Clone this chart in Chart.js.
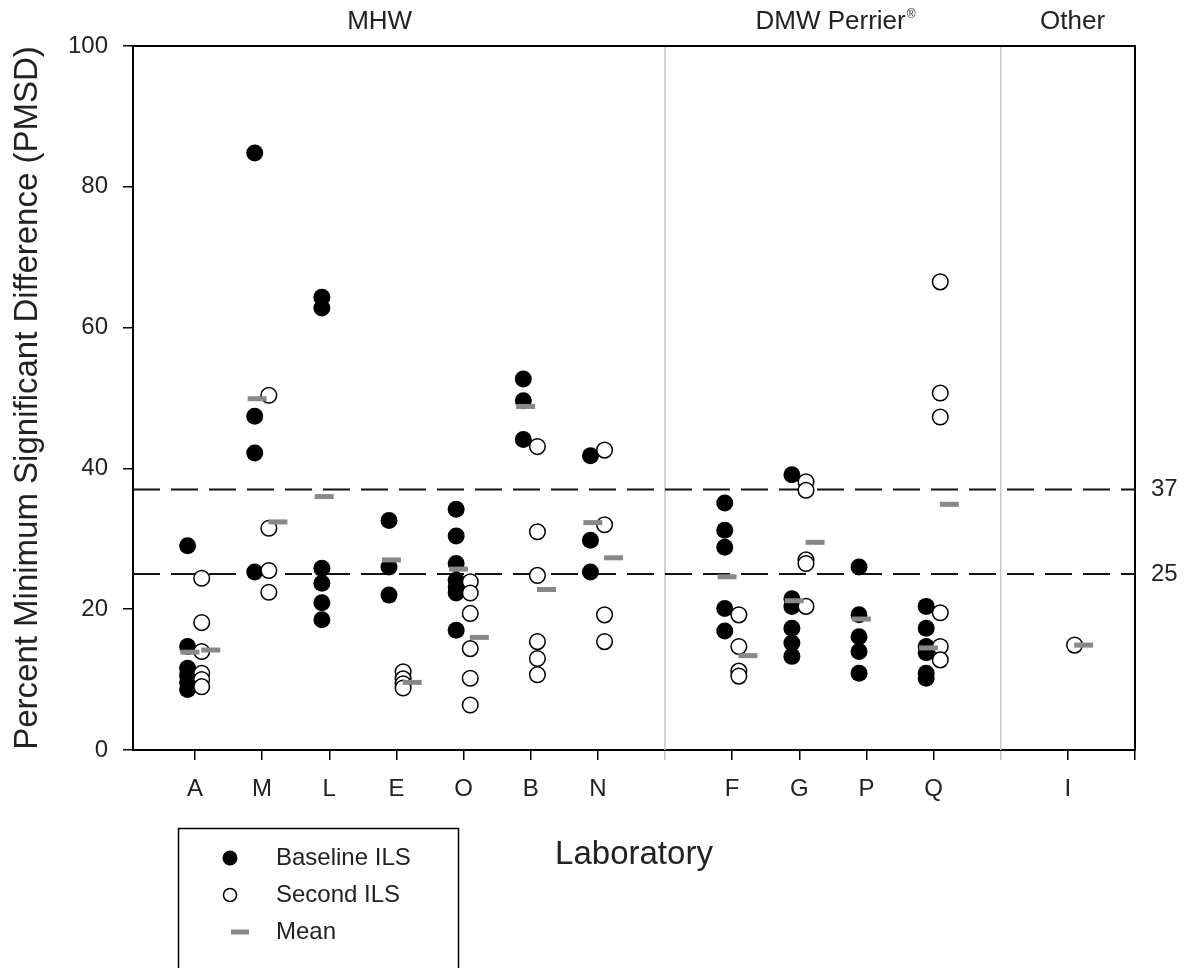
<!DOCTYPE html>
<html>
<head>
<meta charset="utf-8">
<script src="https://cdn.jsdelivr.net/npm/chart.js@4.4.1/dist/chart.umd.min.js"></script>
<style>
  html, body { margin: 0; padding: 0; background: #fff; }
  #wrap { width: 1186px; height: 968px; }
</style>
</head>
<body>
<div id="wrap"><canvas id="pmsd" width="1186" height="968"></canvas></div>
<script>
// laboratories along the x axis, blanks are the group dividers
const categories = ["A", "M", "L", "E", "O", "B", "N", "", "F", "G", "P", "Q", "", "I"];

// PMSD values per laboratory (same order as categories)
const baselineILS = [
  [29.0, 14.7, 11.6, 10.6, 9.6, 8.6],
  [84.8, 47.4, 42.2, 25.3],
  [64.3, 62.8, 25.8, 23.7, 20.9, 18.5],
  [32.6, 26.0, 22.0],
  [34.2, 30.4, 26.5, 24.1, 23.2, 22.3, 17.0],
  [52.7, 49.6, 44.1],
  [41.8, 29.8, 25.3],
  [],
  [35.1, 31.2, 28.8, 20.1, 16.9],
  [39.1, 21.5, 20.4, 17.3, 15.2, 13.3],
  [26.0, 19.2, 16.1, 14.0, 10.9],
  [20.4, 17.3, 14.7, 13.8, 10.9, 10.2],
  [],
  [],
];
const secondILS = [
  [24.4, 18.1, 14.0, 10.9, 10.0, 9.0],
  [50.4, 31.5, 25.5, 22.4],
  [],
  [11.1, 10.1, 9.4, 8.8],
  [23.9, 22.3, 19.4, 14.4, 10.2, 6.4],
  [43.1, 31.0, 24.8, 15.4, 13.0, 10.7],
  [42.6, 32.0, 19.2, 15.4],
  [],
  [19.2, 14.7, 11.2, 10.5],
  [38.1, 36.9, 27.0, 26.5, 20.4],
  [],
  [66.5, 50.7, 47.3, 19.5, 14.7, 12.8],
  [],
  [14.9],
];
const baselineMean = [13.9, 49.9, 36.0, 27.0, 25.7, 48.8, 32.3, null, 24.6, 21.2, 18.6, 14.5, null, null];
const secondMean = [14.2, 32.4, null, 9.6, 16.0, 22.8, 27.3, null, 13.4, 29.5, null, 34.9, null, 14.9];

const refLevels = [37, 25];
const dividers = [7, 12];
const groupNames = ["MHW", "DMW Perrier", "Other"];
const groupAnchors = [2.75, 9.54, 13.07];
const yTicks = [0, 20, 40, 60, 80, 100];

const X_MIN = -0.923;
const X_MAX = 14;
const FONT = "'Liberation Sans', Arial, sans-serif";
const TEXT = "#222";

function pointsFor(lists, offset) {
  return lists.flatMap((vals, i) => vals.map((v) => ({ x: i + offset, y: v })));
}

function meansFor(means, offset) {
  return means
    .map((v, i) => (v === null ? null : { x: i + offset, y: v }))
    .filter(Boolean);
}

const refDatasets = refLevels.map((level) => ({
  label: "ref " + level,
  data: [{ x: X_MIN, y: level }, { x: X_MAX, y: level }],
  showLine: true,
  borderColor: "#111",
  borderWidth: 2,
  borderDash: [27, 11],
  pointRadius: 0,
  order: 10,
}));

const dividerDatasets = dividers.map((d) => ({
  label: "divider " + d,
  data: [{ x: d, y: 0 }, { x: d, y: 100 }],
  showLine: true,
  borderColor: "#c4c4c4",
  borderWidth: 1.5,
  pointRadius: 0,
  order: 11,
}));

// legend box + group labels + top frame line
const decorations = {
  id: "decorations",
  afterDraw(chart) {
    const { ctx, chartArea, scales } = chart;
    ctx.save();

    // top frame
    ctx.strokeStyle = "#000";
    ctx.lineWidth = 2;
    ctx.beginPath();
    ctx.moveTo(chartArea.left, chartArea.top);
    ctx.lineTo(chartArea.right, chartArea.top);
    ctx.stroke();

    // group labels above the plot
    ctx.fillStyle = TEXT;
    ctx.textBaseline = "middle";
    groupNames.forEach((name, i) => {
      const cx = scales.x.getPixelForValue(groupAnchors[i]);
      ctx.font = "26px " + FONT;
      const w1 = ctx.measureText(name).width;
      let w2 = 0;
      const reg = name === "DMW Perrier";
      if (reg) {
        ctx.font = "12px " + FONT;
        w2 = ctx.measureText("\u00AE").width + 1;
      }
      const x0 = cx - (w1 + w2) / 2;
      ctx.font = "26px " + FONT;
      ctx.textAlign = "left";
      ctx.fillText(name, x0, 22);
      if (reg) {
        ctx.font = "12px " + FONT;
        ctx.fillText("\u00AE", x0 + w1 + 1, 15);
      }
    });

    // legend
    ctx.strokeStyle = "#000";
    ctx.lineWidth = 1.5;
    ctx.strokeRect(178.5, 828.5, 280, 170);

    ctx.fillStyle = "#000";
    ctx.beginPath();
    ctx.arc(230, 858, 7.5, 0, Math.PI * 2);
    ctx.fill();

    ctx.fillStyle = "#fff";
    ctx.strokeStyle = "#000";
    ctx.lineWidth = 1.5;
    ctx.beginPath();
    ctx.arc(230, 895, 6.5, 0, Math.PI * 2);
    ctx.fill();
    ctx.stroke();

    ctx.strokeStyle = "#888";
    ctx.lineWidth = 5;
    ctx.beginPath();
    ctx.moveTo(231, 932);
    ctx.lineTo(249, 932);
    ctx.stroke();

    ctx.fillStyle = TEXT;
    ctx.font = "24px " + FONT;
    ctx.textAlign = "left";
    ctx.textBaseline = "middle";
    ctx.fillText("Baseline ILS", 276, 858);
    ctx.fillText("Second ILS", 276, 895);
    ctx.fillText("Mean", 276, 932);

    ctx.restore();
  },
};

new Chart(document.getElementById("pmsd"), {
  type: "scatter",
  data: {
    datasets: [
      ...refDatasets,
      ...dividerDatasets,
      {
        label: "Baseline ILS",
        data: pointsFor(baselineILS, -0.11),
        pointRadius: 8.5,
        pointHoverRadius: 8.5,
        backgroundColor: "#000",
        borderColor: "#000",
        borderWidth: 0,
        order: 3,
      },
      {
        label: "Second ILS",
        data: pointsFor(secondILS, 0.1),
        pointRadius: 7.8,
        pointHoverRadius: 7.8,
        backgroundColor: "#fff",
        borderColor: "#000",
        borderWidth: 1.5,
        order: 2,
      },
      {
        label: "Mean",
        data: [...meansFor(baselineMean, -0.075), ...meansFor(secondMean, 0.235)],
        pointStyle: "line",
        pointRadius: 9.5,
        pointHoverRadius: 9.5,
        borderColor: "#888",
        borderWidth: 5,
        order: 1,
      },
    ],
  },
  options: {
    responsive: false,
    animation: false,
    devicePixelRatio: 1,
    layout: { padding: { top: 46, left: 0, right: 0, bottom: 0 } },
    plugins: {
      legend: { display: false },
      tooltip: { enabled: false },
    },
    scales: {
      x: {
        type: "linear",
        position: "bottom",
        min: X_MIN,
        max: X_MAX,
        afterBuildTicks: (axis) => {
          axis.ticks = categories.map((c, i) => ({ value: i })).concat([{ value: 14 }]);
        },
        afterFit: (axis) => {
          axis.height = 218;
        },
        ticks: {
          autoSkip: false,
          maxRotation: 0,
          padding: 15,
          color: TEXT,
          font: { family: FONT, size: 24 },
          callback: (value) => categories[Math.round(value)] || "",
        },
        grid: {
          drawOnChartArea: false,
          drawTicks: true,
          tickLength: 10,
          lineWidth: 1.5,
          color: (c) => (c.tick && dividers.includes(c.tick.value) ? "#c4c4c4" : "#000"),
        },
        border: { display: true, color: "#000", width: 2 },
        title: {
          display: true,
          text: "Laboratory",
          color: TEXT,
          font: { family: FONT, size: 33 },
          padding: { top: 0, bottom: 93 },
        },
      },
      y: {
        position: "left",
        min: 0,
        max: 100,
        afterBuildTicks: (axis) => {
          axis.ticks = yTicks.map((v) => ({ value: v }));
        },
        afterFit: (axis) => {
          axis.width = 133;
        },
        ticks: {
          padding: 15,
          color: TEXT,
          font: { family: FONT, size: 24 },
        },
        grid: {
          drawOnChartArea: false,
          drawTicks: true,
          tickLength: 10,
          lineWidth: 1.5,
          color: "#000",
        },
        border: { display: true, color: "#000", width: 2 },
        title: {
          display: true,
          text: "Percent Minimum Significant Difference (PMSD)",
          color: TEXT,
          font: { family: FONT, size: 33 },
          padding: { top: 8, bottom: 0 },
        },
      },
      y2: {
        position: "right",
        min: 0,
        max: 100,
        afterBuildTicks: (axis) => {
          axis.ticks = refLevels.map((v) => ({ value: v }));
        },
        afterFit: (axis) => {
          axis.width = 51;
        },
        ticks: {
          padding: 8,
          color: TEXT,
          font: { family: FONT, size: 24 },
          callback: (value) => String(value),
        },
        grid: { display: false },
        border: { display: true, color: "#000", width: 2 },
      },
    },
  },
  plugins: [decorations],
});
</script>
</body>
</html>
